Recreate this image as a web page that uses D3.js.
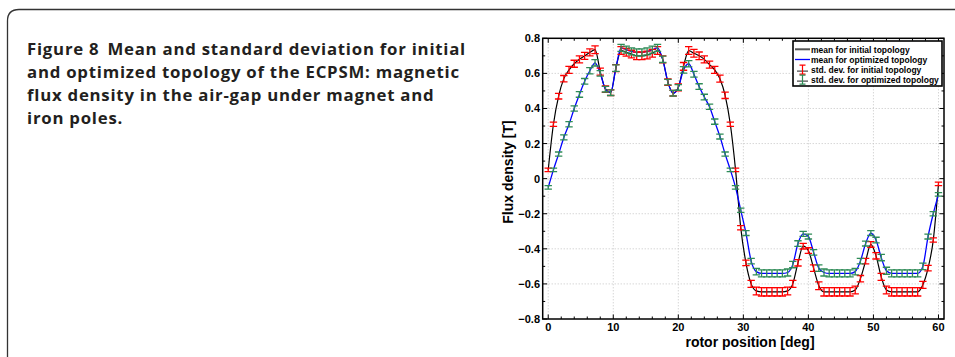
<!DOCTYPE html>
<html>
<head>
<meta charset="utf-8">
<script src="https://cdn.jsdelivr.net/npm/d3@7"></script>
<style>
  body { margin: 0; background: #fff; }
  svg { display: block; }
</style>
</head>
<body>
<svg id="fig" width="955" height="357"></svg>
<script>
// rotor positions of the samples [deg]
const rotorPos = [
  0.0, 0.8, 1.6, 2.4, 3.2, 4.0, 4.8, 5.6, 6.4, 7.2,
  8.0, 8.8, 9.6, 10.4, 11.2, 12.0, 12.8, 13.6, 14.4, 15.2,
  16.0, 16.8, 17.6, 18.4, 19.2, 20.0, 20.8, 21.6, 22.4, 23.2,
  24.0, 24.8, 25.6, 26.4, 27.2, 28.0, 28.8, 29.6, 30.4, 31.2,
  32.0, 32.8, 33.6, 34.4, 35.2, 36.0, 36.8, 37.6, 38.4, 39.2,
  40.0, 40.8, 41.6, 42.4, 43.2, 44.0, 44.8, 45.6, 46.4, 47.2,
  48.0, 48.8, 49.6, 50.4, 51.2, 52.0, 52.8, 53.6, 54.4, 55.2,
  56.0, 56.8, 57.6, 58.4, 59.2, 60.0
]
// mean flux density, initial topology [T]
const meanInitial = [
  0.05, 0.31, 0.47, 0.57, 0.62, 0.655, 0.68, 0.70, 0.72, 0.735,
  0.61, 0.51, 0.49, 0.63, 0.73, 0.72, 0.71, 0.70, 0.70, 0.705,
  0.715, 0.73, 0.68, 0.55, 0.487, 0.52, 0.64, 0.73, 0.715, 0.70,
  0.68, 0.65, 0.62, 0.57, 0.475, 0.31, 0.05, -0.28, -0.48, -0.60,
  -0.64, -0.645, -0.645, -0.645, -0.645, -0.645, -0.64, -0.60, -0.48, -0.385,
  -0.41, -0.51, -0.61, -0.645, -0.645, -0.645, -0.645, -0.645, -0.645, -0.635,
  -0.57, -0.47, -0.375, -0.44, -0.56, -0.635, -0.645, -0.645, -0.645, -0.645,
  -0.645, -0.645, -0.605, -0.51, -0.35, -0.03
]
// mean flux density, optimized topology [T]
const meanOptimized = [
  -0.05, 0.05, 0.14, 0.235, 0.31, 0.40, 0.48, 0.555, 0.615, 0.66,
  0.60, 0.51, 0.49, 0.63, 0.745, 0.735, 0.725, 0.72, 0.72, 0.725,
  0.735, 0.745, 0.68, 0.55, 0.487, 0.52, 0.62, 0.655, 0.595, 0.525,
  0.465, 0.41, 0.325, 0.24, 0.14, 0.05, -0.05, -0.18, -0.31, -0.47,
  -0.53, -0.54, -0.54, -0.54, -0.54, -0.54, -0.535, -0.49, -0.37, -0.315,
  -0.33, -0.42, -0.51, -0.535, -0.54, -0.54, -0.54, -0.54, -0.54, -0.53,
  -0.47, -0.37, -0.31, -0.35, -0.45, -0.525, -0.54, -0.54, -0.54, -0.54,
  -0.54, -0.54, -0.50, -0.33, -0.20, -0.09
]
// standard deviations [T]
const stdInitial = [
  0.01, 0.012, 0.016, 0.018, 0.02, 0.02, 0.02, 0.02, 0.02, 0.022,
  0.02, 0.018, 0.016, 0.02, 0.022, 0.022, 0.022, 0.022, 0.022, 0.022,
  0.022, 0.022, 0.02, 0.018, 0.016, 0.02, 0.022, 0.022, 0.022, 0.022,
  0.02, 0.02, 0.02, 0.02, 0.018, 0.012, 0.01, 0.012, 0.016, 0.02,
  0.022, 0.024, 0.024, 0.024, 0.024, 0.024, 0.022, 0.02, 0.018, 0.016,
  0.016, 0.018, 0.022, 0.024, 0.024, 0.024, 0.024, 0.024, 0.024, 0.022,
  0.018, 0.016, 0.016, 0.018, 0.02, 0.022, 0.024, 0.024, 0.024, 0.024,
  0.024, 0.024, 0.02, 0.016, 0.012, 0.01
]
const stdOptimized = [
  0.01, 0.01, 0.012, 0.014, 0.015, 0.015, 0.016, 0.016, 0.018, 0.018,
  0.016, 0.016, 0.016, 0.018, 0.02, 0.02, 0.02, 0.02, 0.02, 0.02,
  0.02, 0.02, 0.018, 0.016, 0.016, 0.016, 0.018, 0.018, 0.016, 0.016,
  0.016, 0.015, 0.015, 0.014, 0.012, 0.01, 0.01, 0.012, 0.014, 0.016,
  0.018, 0.02, 0.02, 0.02, 0.02, 0.02, 0.02, 0.018, 0.016, 0.014,
  0.014, 0.016, 0.018, 0.02, 0.02, 0.02, 0.02, 0.02, 0.02, 0.018,
  0.016, 0.014, 0.014, 0.016, 0.018, 0.02, 0.02, 0.02, 0.02, 0.02,
  0.02, 0.02, 0.018, 0.014, 0.012, 0.01
]
const xTicks = [0, 10, 20, 30, 40, 50, 60]
const yTicks = [-0.8, -0.6, -0.4, -0.2, 0, 0.2, 0.4, 0.6, 0.8]
const legendLabels = [
  'mean for initial topology',
  'mean for optimized topology',
  'std. dev. for initial topology',
  'std. dev. for optimized topology'
]
const captionLines = [
  'and optimized topology of the ECPSM: magnetic',
  'flux density in the air-gap under magnet and',
  'iron poles.'
]

const svg = d3.select('#fig')
const box = { left: 542.7, right: 944, top: 38.3, bottom: 319 }
const x = d3.scaleLinear().domain([-0.85, 60.85]).range([box.left, box.right])
const y = d3.scaleLinear().domain([-0.8, 0.8]).range([box.bottom, box.top])

// caption frame
svg.append('path')
  .attr('d', 'M7.5,357 V21 Q7.5,9.5 19,9.5 H955')
  .attr('fill', 'none')
  .attr('stroke', '#333')
  .attr('stroke-width', 1.3)

// caption
const cap = svg.append('g')
  .attr('font-family', '"Open Sans", Lato, sans-serif')
  .attr('font-weight', 700)
  .attr('font-size', 16.8)
  .attr('fill', '#231f20')
const first = cap.append('text').attr('x', 27).attr('y', 55)
first.append('tspan').text('Figure 8')
first.append('tspan').attr('dx', 8).text('Mean and standard deviation for initial')
captionLines.forEach((t, i) => {
  cap.append('text').attr('x', 27).attr('y', 78 + i * 23).text(t)
})
// widen tracking a little so the first line ends near x = 466 like the reference
const w0 = first.node().getBBox().width
const nChars = 'Figure 8Mean and standard deviation for initial'.length
cap.attr('letter-spacing', Math.max(0, (439 - w0) / nChars))

// grid
const grid = svg.append('g')
  .attr('stroke', '#c4c4c4')
  .attr('stroke-width', 1)
  .attr('stroke-dasharray', '1,2')
grid.selectAll('.gx').data(xTicks).join('line')
  .attr('x1', d => x(d)).attr('x2', d => x(d))
  .attr('y1', box.top).attr('y2', box.bottom)
grid.selectAll('.gy').data(yTicks.filter(d => Math.abs(d) < 0.8)).join('line')
  .attr('y1', d => y(d)).attr('y2', d => y(d))
  .attr('x1', box.left).attr('x2', box.right)

// ticks on all four sides, pointing inward
const ticks = svg.append('g').attr('stroke', '#000').attr('stroke-width', 1)
const xMinor = d3.range(0, 61, 2).filter(d => d % 10 !== 0)
const yMinor = d3.range(-7, 8, 2).map(d => d / 10)
function xTickMarks (vals, len) {
  vals.forEach(v => {
    ticks.append('line').attr('x1', x(v)).attr('x2', x(v)).attr('y1', box.bottom).attr('y2', box.bottom - len)
    ticks.append('line').attr('x1', x(v)).attr('x2', x(v)).attr('y1', box.top).attr('y2', box.top + len)
  })
}
function yTickMarks (vals, len) {
  vals.forEach(v => {
    ticks.append('line').attr('y1', y(v)).attr('y2', y(v)).attr('x1', box.left).attr('x2', box.left + len)
    ticks.append('line').attr('y1', y(v)).attr('y2', y(v)).attr('x1', box.right).attr('x2', box.right - len)
  })
}
xTickMarks(xTicks, 4.5)
xTickMarks(xMinor, 2.5)
yTickMarks(yTicks, 4.5)
yTickMarks(yMinor, 2.5)

// data
svg.append('clipPath').attr('id', 'clip').append('rect')
  .attr('x', box.left).attr('y', box.top)
  .attr('width', box.right - box.left).attr('height', box.bottom - box.top)
const plot = svg.append('g').attr('clip-path', 'url(#clip)')
const line = vals => d3.line()
  .x((d, i) => x(rotorPos[i]))
  .y(d => y(d))
  .curve(d3.curveMonotoneX)(vals)

plot.append('path').attr('d', line(meanInitial))
  .attr('fill', 'none').attr('stroke', '#000').attr('stroke-width', 1.2)
plot.append('path').attr('d', line(meanOptimized))
  .attr('fill', 'none').attr('stroke', '#0000ff').attr('stroke-width', 1.3)

function errorBars (means, stds, color) {
  const g = plot.append('g').attr('stroke', color).attr('stroke-width', 1.3).attr('fill', 'none')
  const cw = 3.7
  g.selectAll('path').data(means).join('path')
    .attr('d', (m, i) => {
      const cx = x(rotorPos[i])
      const y1 = y(m + stds[i])
      const y2 = y(m - stds[i])
      return `M${cx - cw},${y1}H${cx + cw}M${cx},${y1}V${y2}M${cx - cw},${y2}H${cx + cw}`
    })
}
errorBars(meanInitial, stdInitial, '#ff0000')
errorBars(meanOptimized, stdOptimized, '#2e8b57')

// axes box
svg.append('rect')
  .attr('x', box.left).attr('y', box.top)
  .attr('width', box.right - box.left).attr('height', box.bottom - box.top)
  .attr('fill', 'none').attr('stroke', '#000').attr('stroke-width', 1.5)

// tick labels
const fmt = v => v === 0 ? '0' : (v < 0 ? '\u2212' : '') + Math.abs(v).toFixed(1)
const lab = svg.append('g')
  .attr('font-family', '"Liberation Sans", Arial, sans-serif')
  .attr('font-weight', 700)
  .attr('font-size', 11)
  .attr('fill', '#000')
lab.selectAll('.xl').data(xTicks).join('text')
  .attr('x', d => x(d)).attr('y', 331)
  .attr('text-anchor', 'middle')
  .text(d => d)
lab.selectAll('.yl').data(yTicks).join('text')
  .attr('x', 540).attr('y', d => y(d) + 4)
  .attr('text-anchor', 'end')
  .text(fmt)

// axis titles
const titles = svg.append('g')
  .attr('font-family', '"Liberation Sans", Arial, sans-serif')
  .attr('font-weight', 700)
  .attr('font-size', 14)
titles.append('text')
  .attr('x', 750).attr('y', 346.5)
  .attr('text-anchor', 'middle')
  .text('rotor position [deg]')
titles.append('text')
  .attr('transform', 'translate(512.5,172) rotate(-90)')
  .attr('text-anchor', 'middle')
  .text('Flux density [T]')

// legend
const leg = svg.append('g')
leg.append('rect')
  .attr('x', 793).attr('y', 41).attr('width', 149).attr('height', 45)
  .attr('fill', '#fff').attr('stroke', '#000').attr('stroke-width', 1.6)
const rowY = [49.3, 59.5, 69.6, 79.6]
leg.append('line').attr('x1', 795).attr('x2', 810).attr('y1', rowY[0]).attr('y2', rowY[0])
  .attr('stroke', '#555').attr('stroke-width', 2)
leg.append('line').attr('x1', 795).attr('x2', 810).attr('y1', rowY[1]).attr('y2', rowY[1])
  .attr('stroke', '#0000ff').attr('stroke-width', 1.3)
;[['#ff0000', rowY[2]], ['#2e8b57', rowY[3]]].forEach(([c, cy]) => {
  leg.append('line').attr('x1', 797).attr('x2', 808).attr('y1', cy + 1.5).attr('y2', cy + 1.5)
    .attr('stroke', '#222').attr('stroke-width', 1)
  leg.append('path')
    .attr('d', `M799.5,${cy - 4.5}H805.5M802.5,${cy - 4.5}V${cy + 4.5}M799.5,${cy + 4.5}H805.5`)
    .attr('fill', 'none').attr('stroke', c).attr('stroke-width', 1.2)
})
const legText = leg.append('g')
  .attr('font-family', '"Liberation Sans", Arial, sans-serif')
  .attr('font-weight', 700)
  .attr('font-size', 9)
legText.selectAll('text').data(legendLabels).join('text')
  .attr('x', 811).attr('y', (d, i) => rowY[i] + 3.2)
  .text(d => d)
// the longest entry nearly reaches the right edge of the box
const lw = d3.max(legText.selectAll('text').nodes(), n => n.getComputedTextLength())
legText.attr('font-size', 9 * 128 / lw)
</script>
</body>
</html>
